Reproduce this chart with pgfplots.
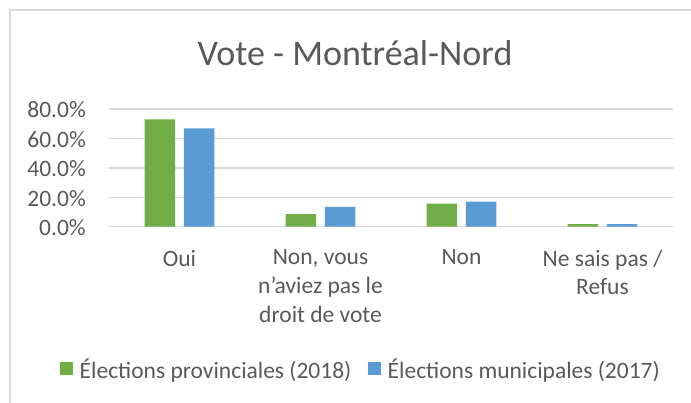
\documentclass[border=0pt]{standalone}
\usepackage{pgfplots}
\pgfplotsset{compat=1.18}
\usepackage{fontspec}
\setmainfont{Carlito}
\definecolor{cgreen}{HTML}{70AD47}
\definecolor{cblue}{HTML}{5B9BD5}
\definecolor{ctext}{HTML}{595959}
\definecolor{cgrid}{HTML}{D9D9D9}
\begin{document}
\begin{tikzpicture}[x=1pt,y=1pt]
\path[use as bounding box] (0,0) rectangle (691,-403);
\draw[cgrid, line width=1.3pt] (10,-403) -- (10,-10) -- (691,-10);
\node[anchor=base, text=ctext, font=\fontsize{36}{43}\selectfont, inner sep=0pt] at (355,-66) {Vote - Montréal-Nord};
\begin{axis}[
  at={(109pt,-226.7pt)}, anchor=south west,
  scale only axis, width=564pt, height=117.7pt,
  xmin=-0.5, xmax=3.5, ymin=0, ymax=80,
  ybar=8.9pt, bar width=30.5pt,
  axis line style={draw=none},
  major tick length=0pt,
  ymajorgrids, grid style={cgrid, line width=1.3pt},
  ytick={0,20,40,60,80},
  yticklabel={\pgfmathprintnumber[fixed,fixed zerofill,precision=1,assume math mode=true]{\tick}\%},
  yticklabel style={anchor=east, inner sep=0pt, xshift=-23pt, yshift=-1pt, text=ctext, font=\fontsize{23.5}{28.7}\selectfont},
  xtick={0,1,2,3},
  xticklabels={Oui, {Non, vous\\n’aviez pas le\\droit de vote}, Non, {Ne sais pas /\\Refus}},
  xticklabel style={anchor=north, inner sep=0pt, yshift=-23pt, align=center, text=ctext, font=\fontsize{23.5}{28.7}\selectfont},
  legend columns=2,
  legend style={at={(0.445,-1.217)}, anchor=center, draw=none, fill=none,
    font=\fontsize{23.5}{28.7}\selectfont, text=ctext,
    nodes={inner sep=0pt},
    /tikz/every odd column/.append style={column sep=6.3pt},
    /tikz/every even column/.append style={column sep=16.7pt}},
  legend image code/.code={\fill[#1] (0pt,-5pt) rectangle (13.3pt,8.3pt);},
]
\addplot[fill=cgreen, draw=none] coordinates {(0,73.0) (1,8.6) (2,15.7) (3,1.8)};
\addplot[fill=cblue, draw=none] coordinates {(0,66.9) (1,13.4) (2,17.0) (3,1.8)};
\legend{Élections provinciales (2018), Élections municipales (2017)}
\end{axis}
\end{tikzpicture}
\end{document}
